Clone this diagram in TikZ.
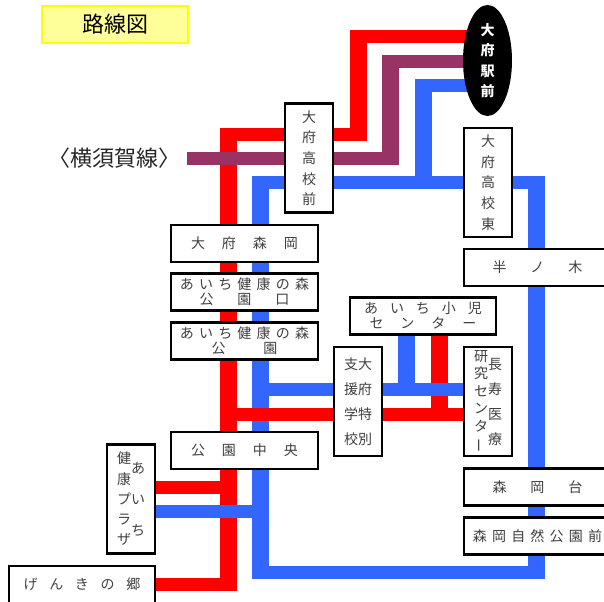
\documentclass[tikz,border=0pt]{standalone}
\usepackage{fontspec}
\setmainfont{Noto Sans CJK JP}
\usetikzlibrary{shapes.geometric, backgrounds}
\definecolor{linered}{RGB}{255,0,0}
\definecolor{lineblue}{RGB}{51,102,255}
\definecolor{linepurple}{RGB}{153,51,102}
\definecolor{titlefill}{RGB}{255,255,153}
\definecolor{titleline}{RGB}{255,255,0}
\newcommand{\hs}[1]{\hspace{#1pt}}
\newcommand{\tate}[2]{\parbox[c]{10.5pt}{\centering\fontsize{10.5pt}{#1pt}\selectfont #2\par}}
\tikzset{
  stopbox/.style={draw, line width=1.65pt, fill=white, text=black!75, inner sep=0pt, align=center, font=\fontsize{10.5pt}{11.25pt}\selectfont},
  widebox/.style={stopbox, minimum width=110pt, minimum height=27.75pt},
  tallbox/.style={stopbox, minimum width=36pt, minimum height=81.75pt, font=\fontsize{10.5pt}{15.5pt}\selectfont},
  hline/.style={line width=9.75pt, shorten <=-6.375pt, shorten >=-6.375pt},
  vline/.style={line width=12.75pt, shorten <=-4.875pt, shorten >=-4.875pt}
}
\begin{document}
\begin{tikzpicture}[x=0.75pt, y=-0.75pt]
\useasboundingbox (0,0) rectangle (604,601);

\node[draw=titleline, line width=1.7pt, fill=titlefill, minimum width=109.5pt, minimum height=27.5pt, inner sep=0pt, font=\fontsize{16.5pt}{20pt}\selectfont] (title) at (115,24.5) {路線図};
\node[inner sep=0pt, text=black!85, font=\fontsize{16.5pt}{20pt}\selectfont] (yokosuka) at (114.5,158) {〈横須賀線〉};

\node[ellipse, fill=black, text=white, minimum width=36.75pt, minimum height=83.25pt, inner sep=0pt, align=center, font=\fontsize{10.5pt}{15.4pt}\selectfont\bfseries] (eki) at (487.5,60.5) {大\\府\\駅\\前};
\node[tallbox] (koumae) at (309,158) {大\\府\\高\\校\\前};
\node[tallbox] (kouhigashi) at (488,182.5) {大\\府\\高\\校\\東};
\node[widebox] (morioka) at (244.5,243.5) {大\hs{12.75}府\hs{12.75}森\hs{12.75}岡};
\node[widebox] (kenko) at (244.5,292) {あ\hs{3.9}い\hs{3.9}ち\hs{3.9}健\hs{3.9}康\hs{3.9}の\hs{3.9}森\\公\hs{18}園\hs{18}口};
\node[widebox] (koen) at (244.5,341) {あ\hs{3.9}い\hs{3.9}ち\hs{3.9}健\hs{3.9}康\hs{3.9}の\hs{3.9}森\\公\hs{28.5}園};
\node[widebox] (shoni) at (423,316) {あ\hs{9}い\hs{9}ち\hs{9}小\hs{9}児\\セ\hs{12.75}ン\hs{12.75}タ\hs{12.75}ー};
\node[tallbox, font=\fontsize{10.5pt}{18.75pt}\selectfont] (tokubetsu) at (358,401.5) {支大\\援府\\学特\\校別};
\node[tallbox] (choju) at (488,401.5) {\tate{13.2}{研\\究\\セ\\ン\\タ\\\rotatebox[origin=c]{90}{ー}}\tate{18.75}{長\\寿\\医\\療}};
\node[widebox] (chuo) at (244.5,450.5) {公\hs{12.75}園\hs{12.75}中\hs{12.75}央};
\node[tallbox] (plaza) at (131,499) {\tate{15.2}{健\\康\\プ\\ラ\\ザ}\tate{23.25}{あ\\い\\ち}};
\node[widebox] (genki) at (82,584.5) {げ\hs{8.8}ん\hs{8.8}き\hs{8.8}の\hs{8.8}郷};
\node[widebox] (hannoki) at (537.5,267.5) {半\hs{18}ノ\hs{18}木};
\node[widebox] (moriokadai) at (537.5,487) {森\hs{18}岡\hs{18}台};
\node[widebox] (shizen) at (537.5,536) {森\hs{3.9}岡\hs{3.9}自\hs{3.9}然\hs{3.9}公\hs{3.9}園\hs{3.9}前};

% corners of the lines
\coordinate (redtop) at (358.5,36.5);
\coordinate (redmid) at (358.5,134.5);
\coordinate (redleft) at (228.5,134.5);
\coordinate (redbottom) at (228.5,584.5);
\coordinate (redbranch) at (228.5,414.5);
\coordinate (redstub) at (228.5,487.5);
\coordinate (redjoin) at (439.5,414.5);
\coordinate (purpletop) at (390.5,61.5);
\coordinate (purplemid) at (390.5,158.5);
\coordinate (purpleend) at (195.5,158.5);
\coordinate (bluetop) at (423.5,85.5);
\coordinate (bluemid) at (423.5,182.5);
\coordinate (blueleft) at (260.5,182.5);
\coordinate (blueright) at (536.5,182.5);
\coordinate (bluelow) at (260.5,572.5);
\coordinate (bluecorner) at (536.5,572.5);
\coordinate (bluebranch) at (260.5,389.5);
\coordinate (bluestub) at (260.5,511.5);
\coordinate (bluejoin) at (406.5,389.5);

\begin{scope}[on background layer]
% red
\draw[linered, hline] (eki |- redtop) -- (redtop);
\draw[linered, vline] (redtop) -- (redmid);
\draw[linered, hline] (redleft) -- (redmid);
\draw[linered, vline] (redleft) -- (redbottom);
\draw[linered, hline] (genki |- redbottom) -- (redbottom);
\draw[linered, hline] (plaza |- redstub) -- (redstub);
\draw[linered, vline] (shoni -| redjoin) -- (redjoin);
% blue
\draw[lineblue, hline] (eki |- bluetop) -- (bluetop);
\draw[lineblue, vline] (bluetop) -- (bluemid);
\draw[lineblue, hline] (blueleft) -- (blueright);
\draw[lineblue, vline] (blueright) -- (bluecorner);
\draw[lineblue, hline] (bluelow) -- (bluecorner);
\draw[lineblue, vline] (blueleft) -- (bluelow);
\draw[lineblue, hline] (bluebranch) -- (choju |- bluebranch);
\draw[lineblue, vline] (shoni -| bluejoin) -- (bluejoin);
\draw[lineblue, hline] (plaza |- bluestub) -- (bluestub);
% red over blue
\draw[linered, hline] (redbranch) -- (choju |- redbranch);
% purple
\draw[linepurple, hline] (eki |- purpletop) -- (purpletop);
\draw[linepurple, vline] (purpletop) -- (purplemid);
\draw[linepurple, hline] (purpleend) -- (purplemid);
\end{scope}
\end{tikzpicture}
\end{document}
